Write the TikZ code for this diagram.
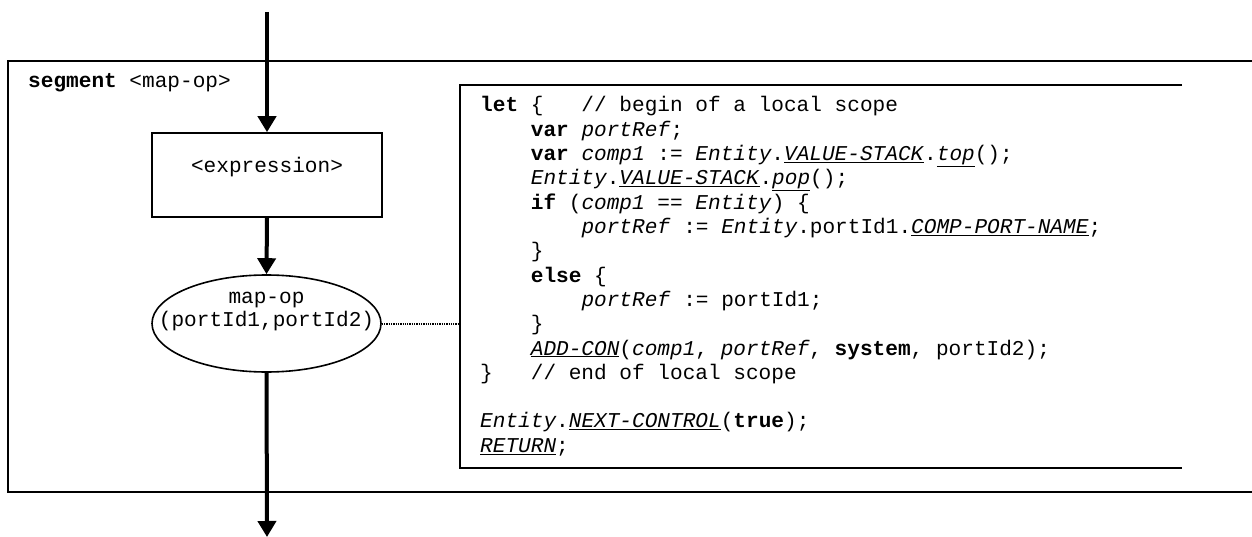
\documentclass[tikz,border=0pt]{standalone}
\usepackage{fontspec}
\setmonofont{Liberation Mono}
\usetikzlibrary{arrows.meta,shapes.geometric}
\newcommand\uit[1]{\underline{\textit{#1}}}
\begin{document}
\begin{tikzpicture}[x=1pt,y=-1pt,
  txt/.style={font=\ttfamily\fontsize{21.1}{24.3}\selectfont, inner sep=0pt},
  code/.style={txt, anchor=base west},
  frame/.style={line width=1.6pt},
  flow/.style={line width=4pt, -{Triangle[width=18pt,length=16pt]}},
  dotline/.style={line width=2pt, dash pattern=on 1.3pt off 1pt}]
\useasboundingbox (0,0) rectangle (1252,537);
% outer segment frame (open at right)
\draw[frame] (1252,61) -- (8,61) -- (8,492) -- (1252,492);
\node[txt, anchor=base west] (seg) at (28,88) {\textbf{segment} <map-op>};
% code frame (open at right)
\draw[frame] (1182,85) -- (460,85) -- (460,468) -- (1182,468);
% flow nodes
\coordinate (top) at (267,12);
\coordinate (bot) at (267,537);
\node[txt, draw, frame, minimum width=230pt, minimum height=84pt, text height=10pt, text depth=14pt] (expr) at (267,175) {<expression>};
\node[draw, frame, ellipse, inner sep=0pt, minimum width=229pt, minimum height=97pt] (op) at (266.5,323.5) {};
\node[txt, anchor=base] (opa) at (266.5,303) {map-op};
\node[txt, anchor=base] (opb) at (266.5,326) {(portId1,portId2)};
\coordinate (cl) at (460,323.5);
\draw[flow] (top) -- (expr.north);
\draw[flow] (expr.south) -- (op.north);
\draw[flow] (op.south) -- (bot);
\draw[dotline] (op.east) -- (cl);
% code lines
\node[code] (c1) at (480,112) {\textbf{let} \{\phantom{xxx}// begin of a local scope};
\node[code] (c2) at (480,136.3) {\phantom{xxxx}\textbf{var} \textit{portRef};};
\node[code] (c3) at (480,160.6) {\phantom{xxxx}\textbf{var} \textit{comp1} := \textit{Entity}.\uit{VALUE-STACK}.\uit{top}();};
\node[code] (c4) at (480,184.9) {\phantom{xxxx}\textit{Entity}.\uit{VALUE-STACK}.\uit{pop}();};
\node[code] (c5) at (480,209.2) {\phantom{xxxx}\textbf{if} (\textit{comp1 == Entity}) \{};
\node[code] (c6) at (480,233.5) {\phantom{xxxxxxxx}\textit{portRef} := \textit{Entity}.portId1.\uit{COMP-PORT-NAME};};
\node[code] (c7) at (480,257.8) {\phantom{xxxx}\}};
\node[code] (c8) at (480,282.1) {\phantom{xxxx}\textbf{else} \{};
\node[code] (c9) at (480,306.4) {\phantom{xxxxxxxx}\textit{portRef} := portId1;};
\node[code] (c10) at (480,330.7) {\phantom{xxxx}\}};
\node[code] (c11) at (480,355) {\phantom{xxxx}\uit{ADD-CON}(\textit{comp1}, \textit{portRef}, \textbf{system}, portId2);};
\node[code] (c12) at (480,379.3) {\}\phantom{xxx}// end of local scope};
\node[code] (c14) at (480,427.9) {\textit{Entity}.\uit{NEXT-CONTROL}(\textbf{true});};
\node[code] (c15) at (480,452.2) {\uit{RETURN};};
\end{tikzpicture}
\end{document}
